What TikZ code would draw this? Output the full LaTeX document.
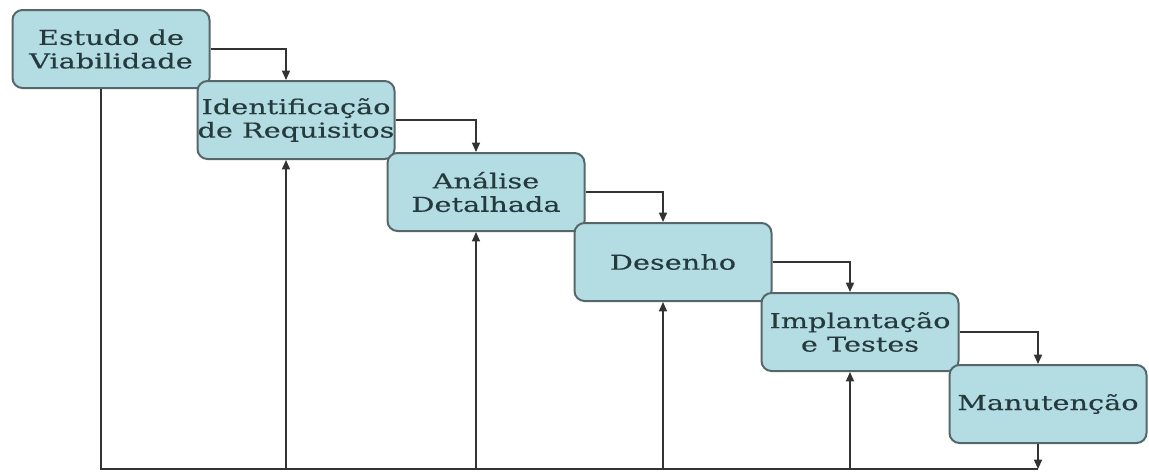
\documentclass[tikz,border=0pt]{standalone}
\usepackage{fontspec}
\newfontfamily\phasefont[FakeStretch=1.4,FakeBold=0.3]{DejaVu Serif}
\usetikzlibrary{arrows.meta,calc}
\definecolor{phaseFill}{HTML}{B4DDE3}
\definecolor{phaseEdge}{HTML}{56676A}
\definecolor{phaseText}{HTML}{253A3C}
\definecolor{flowGray}{HTML}{333333}
\tikzset{
  flowArrow/.style={-{Triangle[length=7pt,width=6pt]}, line width=1.1pt, draw=flowGray},
  flowLine/.style={line width=1.1pt, draw=flowGray},
  phaseBox/.style={
    draw=phaseEdge,
    fill=phaseFill,
    rounded corners=7.5pt,
    line width=1.5pt,
    align=center,
    minimum width=147.75pt,
    minimum height=58.5pt,
    inner sep=0pt,
    text=phaseText,
    font=\phasefont\fontsize{15.4}{17.6}\selectfont
  }
}
\begin{document}
\begin{tikzpicture}[x=0.75pt, y=-0.75pt]
  \useasboundingbox (0,0) rectangle (1149,475);
  \node[phaseBox] (est) at (111,49) {Estudo de\\Viabilidade};
  \node[phaseBox] (req) at (296,120) {Identificação\\de Requisitos};
  \node[phaseBox] (ana) at (486,192) {Análise\\Detalhada};
  \node[phaseBox] (des) at (673,262) {Desenho};
  \node[phaseBox] (imp) at (860,332) {Implantação\\e Testes};
  \node[phaseBox] (man) at (1048,404) {Manutenção};

  % entry points, a little left of each box centre
  \foreach \n in {est,req,ana,des,imp,man}
    \coordinate (\n-in) at ($(\n.south)+(-10,0)$);
  \coordinate (base) at (0,469);

  % cascade
  \foreach \a/\b in {est/req,req/ana,ana/des,des/imp,imp/man}
    \draw[flowArrow] (\a.east) -| (\b-in |- \b.north);

  % feedback along the bottom
  \draw[flowLine] (est-in) -- (est-in |- base) -- (man-in |- base);
  \draw[flowArrow] (man-in) -- (man-in |- base);
  \foreach \n in {req,ana,des,imp}
    \draw[flowArrow] (\n-in |- base) -- (\n-in);
\end{tikzpicture}
\end{document}
